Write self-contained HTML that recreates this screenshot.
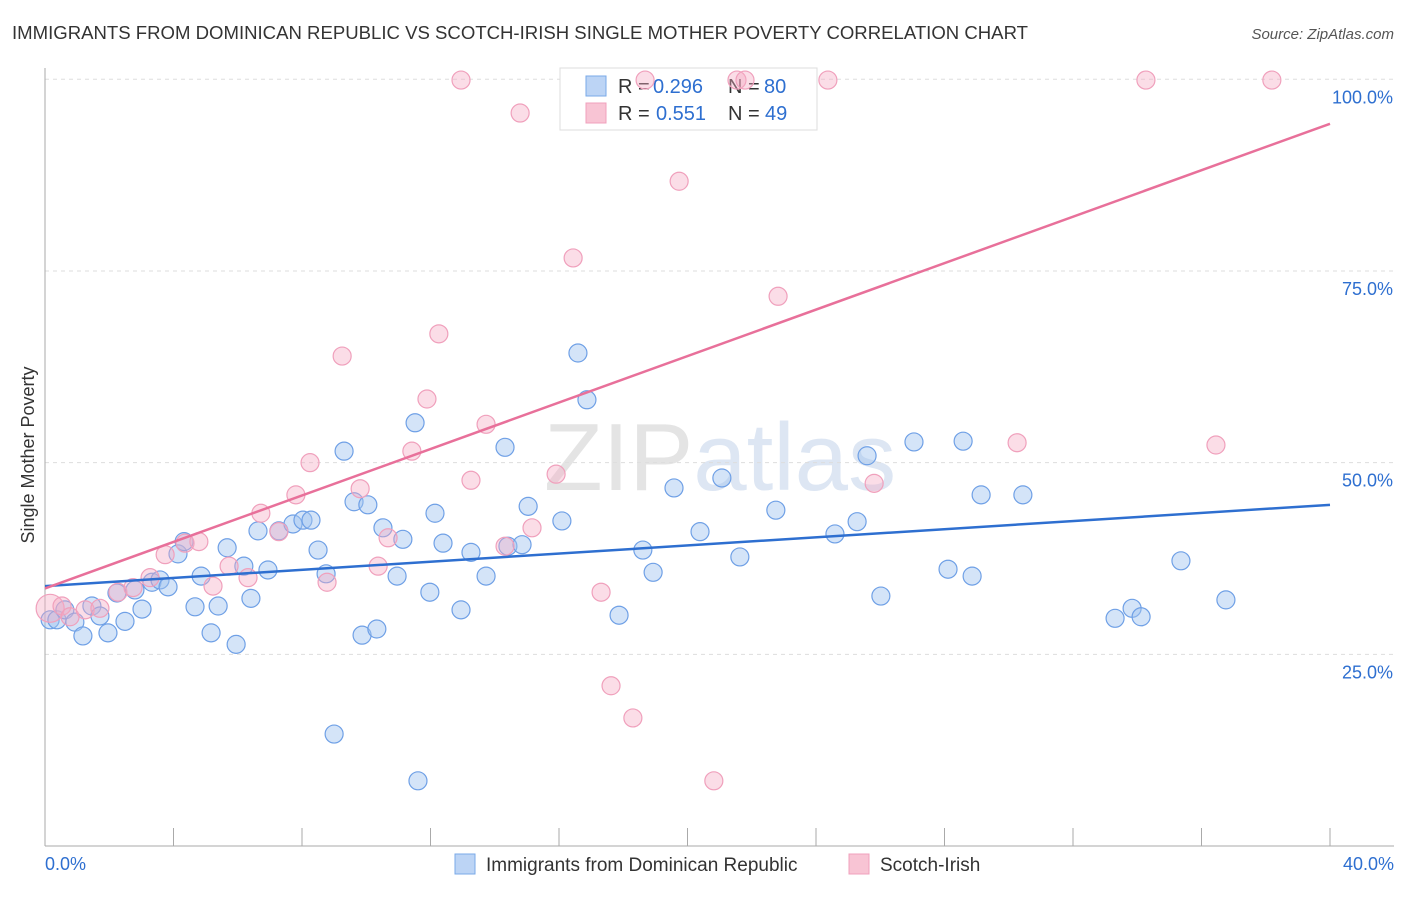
<!DOCTYPE html>
<html><head><meta charset="utf-8"><style>
body{margin:0;background:#fff;font-family:"Liberation Sans",sans-serif;}
svg text{font-family:"Liberation Sans",sans-serif;}
</style></head><body>
<svg id="chart" width="1406" height="892">
<text x="12" y="39" font-size="18" fill="#333" textLength="1016" lengthAdjust="spacingAndGlyphs">IMMIGRANTS FROM DOMINICAN REPUBLIC VS SCOTCH-IRISH SINGLE MOTHER POVERTY CORRELATION CHART</text>
<text x="1394" y="39" font-size="15" fill="#555" font-style="italic" text-anchor="end">Source: ZipAtlas.com</text>
<text x="720" y="490" font-size="96" fill="#ececec" text-anchor="middle" font-family="Liberation Serif"><tspan fill="#e4e4e4">ZIP</tspan><tspan fill="#dde6f3" font-family="Liberation Sans">atlas</tspan></text>
<g id="grid"></g>
<g>
<rect x="560" y="68" width="257" height="62" fill="#fff" stroke="#ddd"/>
<rect x="586" y="76" width="20" height="20" fill="#bcd4f5" stroke="#7aaae8"/>
<rect x="586" y="103" width="20" height="20" fill="#f8c4d4" stroke="#f0a0bc"/>
<text x="618" y="93" font-size="20" fill="#333">R =</text>
<text x="653" y="93" font-size="20" fill="#2e6fd0">0.296</text>
<text x="728" y="93" font-size="20" fill="#333">N =</text>
<text x="764" y="93" font-size="20" fill="#2e6fd0">80</text>
<text x="618" y="120" font-size="20" fill="#333">R =</text>
<text x="656" y="120" font-size="20" fill="#2e6fd0">0.551</text>
<text x="728" y="120" font-size="20" fill="#333">N =</text>
<text x="765" y="120" font-size="20" fill="#2e6fd0">49</text>
</g>
<g id="pts"></g>
<g id="lines"></g>
<text transform="translate(34,455) rotate(-90)" font-size="18" fill="#333" text-anchor="middle">Single Mother Poverty</text>
<g>
<rect x="455" y="854" width="20" height="20" fill="#bcd4f5" stroke="#7aaae8"/>
<text x="486" y="871" font-size="19" fill="#333">Immigrants from Dominican Republic</text>
<rect x="849" y="854" width="20" height="20" fill="#f8c4d4" stroke="#f0a0bc"/>
<text x="880" y="871" font-size="19" fill="#333">Scotch-Irish</text>
</g>
</svg>
<script>
const blueX=[0.16,0.37,0.62,0.93,1.18,1.46,1.71,1.96,2.24,2.49,2.80,3.02,3.33,3.58,3.83,4.14,4.33,4.67,4.86,5.17,5.39,5.67,5.95,6.19,6.41,6.63,6.94,7.28,7.72,8.03,8.28,8.50,8.75,9.00,9.31,9.62,9.87,10.05,10.33,10.52,10.96,11.14,11.52,11.61,11.98,12.14,12.39,12.95,13.26,13.73,14.32,14.41,14.85,15.04,16.09,16.59,16.87,17.87,18.61,18.93,19.58,20.39,21.07,21.63,22.75,24.59,25.28,25.59,26.02,27.05,28.11,28.58,28.86,29.14,30.44,33.31,33.84,34.12,35.36,36.76];
const blueY=[29.5,29.5,30.8,29.2,27.4,31.3,30.0,27.8,33.0,29.3,33.4,30.9,34.4,34.7,33.8,38.1,39.7,31.2,35.2,27.8,31.3,38.9,26.3,36.5,32.3,41.1,36.0,41.1,42.0,42.5,42.5,38.6,35.5,14.6,51.5,44.9,27.5,44.5,28.3,41.5,35.2,40.0,55.2,8.5,33.1,43.4,39.5,30.8,38.3,35.2,52.0,39.1,39.3,44.3,42.4,64.3,58.2,30.1,38.6,35.7,46.7,41.0,48.0,37.7,43.8,40.7,42.3,50.9,32.6,52.7,36.1,52.8,35.2,45.8,45.8,29.7,31.0,29.9,37.2,32.1];
const pinkX=[0.16,0.53,0.78,1.25,1.71,2.27,2.74,3.27,3.74,4.36,4.79,5.23,5.73,6.32,6.72,7.28,7.81,8.25,8.78,9.25,9.81,10.37,10.68,11.42,11.89,12.26,12.95,13.26,13.73,14.32,14.79,15.16,15.91,16.44,17.31,17.62,18.30,18.68,19.74,20.82,21.54,21.79,22.82,24.37,25.81,30.26,34.27,36.45,38.19];
const pinkY=[31.0,31.3,29.9,30.8,31.0,33.1,33.7,35.0,38.0,39.5,39.7,33.9,36.5,35.0,43.4,41.0,45.8,50.0,34.4,63.9,46.6,36.5,40.2,51.5,58.3,66.8,99.9,47.7,55.0,39.1,95.6,41.5,48.5,76.7,33.1,20.9,16.7,99.9,86.7,8.5,99.9,99.9,71.7,99.9,47.3,52.6,99.9,52.3,99.9];
const blueTrend=[33.9,44.5];
const pinkTrend=[33.6,94.2];
const yTicks=[25,50,75,100];
const yTickLabels=["25.0%","50.0%","75.0%","100.0%"];
const xTicks=[0,4,8,12,16,20,24,28,32,36,40];
const NS="http://www.w3.org/2000/svg";
const sx=v=>45+v*32.125, sy=v=>846-v*7.667;
function mk(t,a,p){const e=document.createElementNS(NS,t);for(const k in a)e.setAttribute(k,a[k]);p.appendChild(e);return e;}
const g=document.getElementById('grid');
yTicks.forEach((t,i)=>{
 const l=mk('line',{x1:45,x2:1394,y1:sy(t),y2:sy(t),stroke:'#ddd','stroke-dasharray':'4,4'},g);
 
 
 const tx=mk('text',{x:1393,y:sy(t)+24,'font-size':18,fill:'#2e6fd0','text-anchor':'end'},g);
 tx.textContent=yTickLabels[i];
 
 
});
const ax=mk('line',{x1:45,x2:45,y1:68,y2:846,stroke:'#aaa'},g);


const bx=mk('line',{x1:45,x2:1394,y1:846,y2:846,stroke:'#aaa'},g);


xTicks.forEach(t=>{
 const l=mk('line',{x1:sx(t),x2:sx(t),y1:828,y2:846,stroke:'#aaa'},g);
 
 
});
[[0,'0.0%','start',45],[40,'40.0%','end',1394]].forEach(d=>{
 const tx=mk('text',{x:d[3],y:870,'font-size':18,fill:'#2e6fd0','text-anchor':d[2]},g);
 tx.textContent=d[1];
 
 
});
const p=document.getElementById('pts');
blueX.forEach((x,i)=>{
 const c=mk('circle',{cx:sx(x),cy:sy(blueY[i]),r:9,fill:'rgba(160,195,240,0.45)',stroke:'#6fa0e6','stroke-width':1.2},p);
 
 
});
pinkX.forEach((x,i)=>{
 const c=mk('circle',{cx:sx(x),cy:sy(pinkY[i]),r:i==0?14:9,fill:'rgba(245,170,195,0.4)',stroke:'#f0a0bc','stroke-width':1.2},p);
 
 
});
const L=document.getElementById('lines');
const bl=mk('line',{x1:sx(0),y1:sy(blueTrend[0]),x2:sx(40),y2:sy(blueTrend[1]),stroke:'#2e6fd0','stroke-width':2.5},L);


const pl=mk('line',{x1:sx(0),y1:sy(pinkTrend[0]),x2:sx(40),y2:sy(pinkTrend[1]),stroke:'#e8709a','stroke-width':2.5},L);


</script>
</body></html>
